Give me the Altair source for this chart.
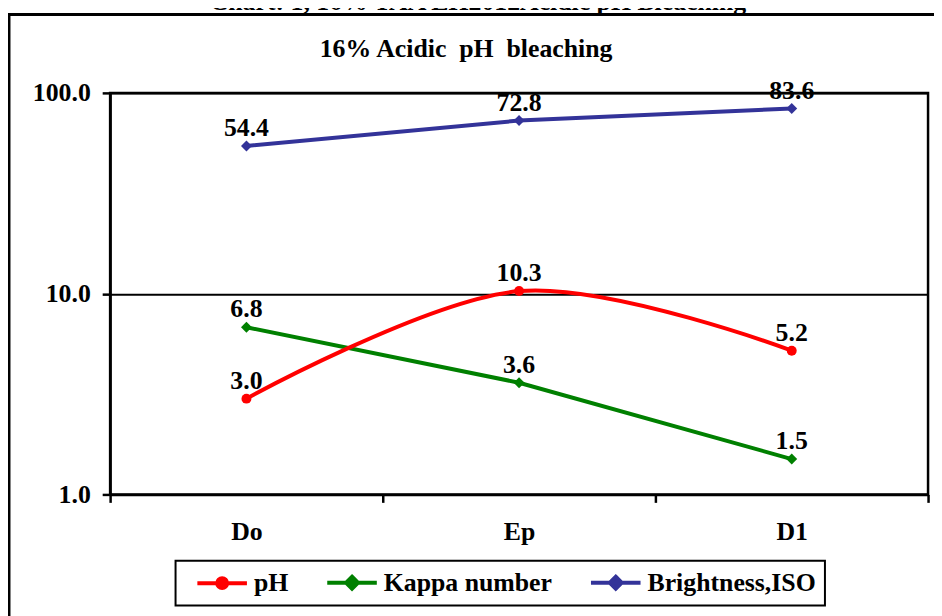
import altair as alt
import pandas as pd

stages = ["Do", "Ep", "D1"]
series_names = ["pH", "Kappa number", "Brightness,ISO"]
ph = [3.0, 10.3, 5.2]
kappa = [6.8, 3.6, 1.5]
brightness = [54.4, 72.8, 83.6]
y_ticks = [1, 10, 100]
colors = ["#FF0000", "#008000", "#333399"]
chart_title = "Chart: 1, 16% TAA LH2012Acidic pH Bleaching"
inner_title = "16% Acidic\u00a0 pH\u00a0 bleaching"

rows = []
for name, vals in zip(series_names, [ph, kappa, brightness]):
    for st, v in zip(stages, vals):
        rows.append({"stage": st, "series": name, "value": v})
df = pd.DataFrame(rows)

FONT = "Liberation Serif"
W, H = 825, 405

# legend symbols: a line with the marker in its middle
legend_paths = [
    "M0,0L5,0M2,0A0.5,0.5,0,1,1,3,0A0.5,0.5,0,1,1,2,0Z",
    "M0,0L5,0M2.5,-0.6L3.1,0L2.5,0.6L1.9,0Z",
    "M0,0L5,0M2.5,-0.6L3.1,0L2.5,0.6L1.9,0Z",
]

x = alt.X(
    "stage:N",
    sort=stages,
    scale=alt.Scale(paddingInner=0, paddingOuter=0),
    axis=alt.Axis(
        title=None, labelAngle=0, tickBand="extent", tickSize=8, tickWidth=2.5,
        tickColor="black", domainColor="black", domainWidth=2.5,
        labelFont=FONT, labelFontSize=26, labelFontWeight="bold", labelColor="black",
        labelPadding=16, grid=False,
    ),
)
y = alt.Y(
    "value:Q",
    scale=alt.Scale(type="log", domain=[1, 100], nice=False),
    axis=alt.Axis(
        values=y_ticks, format=".1f", title=None, grid=True, gridColor="black",
        gridWidth=2, tickSize=8, tickWidth=2.5, tickColor="black",
        domainColor="black", domainWidth=2.5, labelFont=FONT, labelFontSize=26,
        labelFontWeight="bold", labelColor="black", labelPadding=12,
    ),
)
color = alt.Color(
    "series:N",
    scale=alt.Scale(domain=series_names, range=colors),
    legend=alt.Legend(
        title=None, orient="none", legendX=66, legendY=472, direction="horizontal",
        labelFont=FONT, labelFontSize=26, labelFontWeight="bold", labelColor="black",
        labelLimit=400, symbolSize=400, symbolStrokeWidth=4, strokeColor="black",
        padding=9, columnPadding=26, labelOffset=44,
    ),
)

base = alt.Chart(df).encode(x=x, y=y, color=color)

straight = base.transform_filter(alt.datum.series != "pH").mark_line(strokeWidth=4).encode(detail="series:N")
smooth = base.transform_filter(alt.datum.series == "pH").mark_line(strokeWidth=4, interpolate="cardinal")
circles = base.transform_filter(alt.datum.series == "pH").mark_point(filled=True, shape="circle", size=100, opacity=1)
diamonds = base.transform_filter(alt.datum.series != "pH").mark_point(filled=True, shape="diamond", size=121, opacity=1)
legend_layer = base.transform_filter("false").mark_point(filled=True, opacity=1, strokeWidth=4).encode(
    shape=alt.Shape("series:N", scale=alt.Scale(domain=series_names, range=legend_paths)),
    stroke=alt.Stroke("series:N", scale=alt.Scale(domain=series_names, range=colors)),
)
labels = base.mark_text(
    dy=-10, baseline="alphabetic", font=FONT, fontSize=26, fontWeight="bold"
).encode(text=alt.Text("value:Q", format=".1f"), color=alt.value("black"))

one = pd.DataFrame({"t": [chart_title], "u": [inner_title]})
frame = alt.Chart(one).mark_rect(fill=None, stroke="black", strokeWidth=3).encode(
    x=alt.value(-102), x2=alt.value(1000), y=alt.value(-79), y2=alt.value(700)
)
title1 = alt.Chart(one).mark_text(
    font=FONT, fontSize=26, fontWeight="bold", baseline="alphabetic", align="center", color="black"
).encode(text="t:N", x=alt.value(371), y=alt.value(-84))
title2 = alt.Chart(one).mark_text(
    font=FONT, fontSize=26, fontWeight="bold", baseline="alphabetic", align="center", color="black"
).encode(text="u:N", x=alt.value(359), y=alt.value(-36))

chart = alt.layer(
    frame, title1, title2, straight, smooth, circles, diamonds, legend_layer, labels
).properties(
    width=W, height=H,
    padding={"left": 103, "top": 83, "right": 6, "bottom": 120},
    autosize=alt.AutoSizeParams(type="none"),
).configure_view(stroke="black", strokeWidth=2.5).configure_legend(strokeWidth=2)

chart.save("out.html", embed_options={"renderer": "svg", "actions": False})
